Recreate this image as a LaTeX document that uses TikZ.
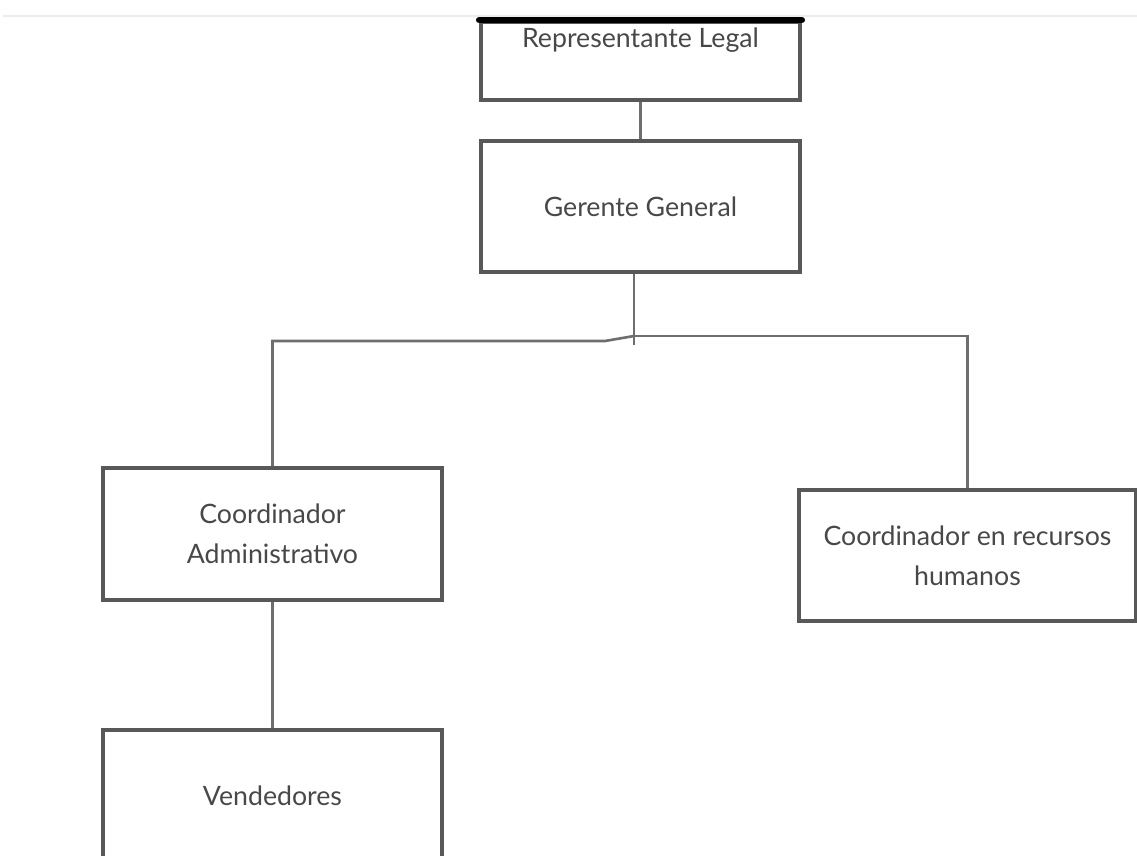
\documentclass[tikz,border=0pt]{standalone}
\usepackage{fontspec}
\setmainfont{Lato}
\usetikzlibrary{positioning,calc}
\definecolor{boxgray}{HTML}{585858}
\definecolor{linegray}{HTML}{6E6E6E}
\definecolor{txtgray}{HTML}{484848}
\tikzset{
  obox/.style  ={draw=boxgray, line width=2pt, align=center, text=txtgray,
                 font=\fontsize{15.2}{22.8}\selectfont, inner sep=0pt},
  conn/.style  ={draw=linegray, line width=1.5pt},
  topbar/.style={line width=3.8pt, black, line cap=round},
}

\begin{document}
\begin{tikzpicture}[x=0.02cm, y=-0.02cm]
\clip (0,0) rectangle (1137,856);
\useasboundingbox (0,0) rectangle (1137,856);

% faint rule of the page
\draw[gray!15, line width=1pt] (3,16) -- (1137,16);

\node[obox, anchor=north, minimum width=6.38cm, minimum height=1.56cm,
      text height=0.52cm, text depth=1.04cm] (rep) at (640.5,20) {Representante Legal};
\node[obox, minimum width=6.38cm, minimum height=2.62cm] (ger) at (640.5,206.5) {Gerente General};
\node[obox, minimum width=6.78cm, minimum height=2.64cm] (adm) at (272.5,534)
  {Coordinador\\Administrativo};
\node[obox, minimum width=6.78cm, minimum height=2.64cm] (ven) at (272.5,796) {Vendedores};
\node[obox, minimum width=6.74cm, minimum height=2.62cm] (rrhh) at (967.5,555.5)
  {Coordinador en recursos\\humanos};

\draw[topbar] (rep.north west) -- (rep.north east);

\coordinate (jn) at (634,336);
\draw[conn] (rep) -- (ger);
\draw[conn] (ger.south -| jn) -- ++(0,71);
\draw[conn] (jn) -| (rrhh.north);
\draw[conn] (jn) -- ++(-29,5) -| (adm.north);
\draw[conn] (adm) -- (ven);

\end{tikzpicture}
\end{document}
